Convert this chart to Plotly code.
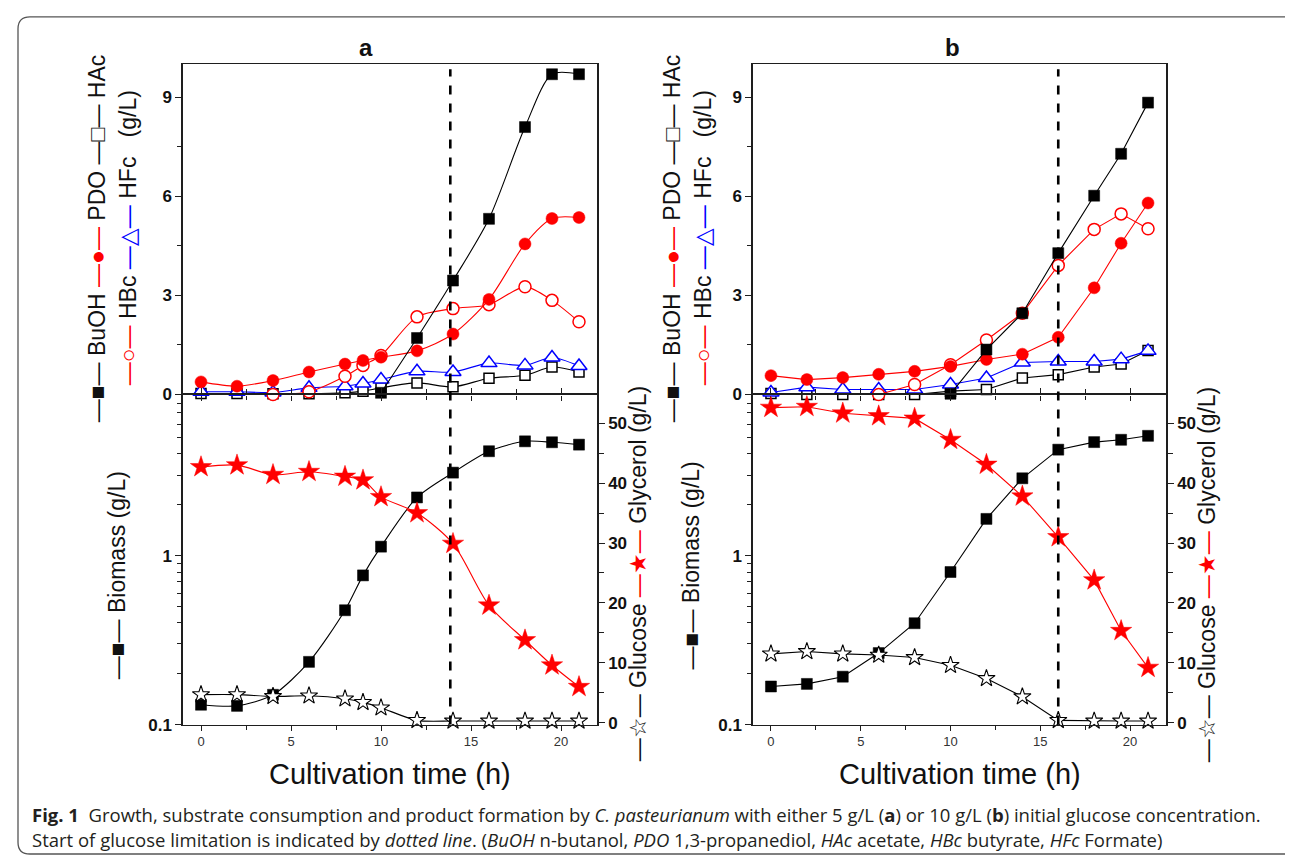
import math
import plotly.graph_objects as go

W, H = 1293, 858

# ---------------- data ----------------
time_a = [0, 2, 4, 6, 8, 9, 10, 12, 14, 16, 18, 19.5, 21]
time_b = [0, 2, 4, 6, 8, 10, 12, 14, 16, 18, 19.5, 21]

# panel a, products (g/L); None = point not visible in the figure
buoh_a = [None, None, None, None, None, None, 0.05, 1.71, 3.45, 5.32, 8.1, 9.7, 9.7]
pdo_a = [0.38, 0.25, 0.42, 0.68, 0.92, 1.03, 1.13, 1.32, 1.83, 2.88, 4.56, 5.33, 5.36]
hbc_a = [None, None, 0.0, 0.08, 0.55, 0.88, 1.18, 2.35, 2.6, 2.72, 3.26, 2.85, 2.2]
hfc_a = [0.08, 0.08, 0.06, 0.2, 0.25, 0.33, 0.45, 0.7, 0.68, 0.95, 0.88, 1.12, 0.86]
hac_a = [0.03, 0.03, 0.02, 0.02, 0.05, 0.1, 0.2, 0.35, 0.23, 0.49, 0.58, 0.83, 0.68]

# panel a, biomass / substrates
biomass_a = [0.131, 0.129, 0.150, 0.235, 0.475, 0.764, 1.13, 2.21, 3.10, 4.15, 4.75, 4.69, 4.54]
glycerol_a = [42.7, 43.0, 41.4, 41.9, 41.1, 40.5, 37.7, 35.0, 29.9, 19.6, 13.8, 9.6, 6.0]
glucose_a = [4.7, 4.7, 4.4, 4.5, 4.0, 3.4, 2.5, 0.4, 0.3, 0.3, 0.3, 0.3, 0.3]

# panel b, products (g/L)
buoh_b = [None, None, None, None, None, 0.02, 1.36, 2.46, 4.28, 6.02, 7.29, 8.84]
pdo_b = [0.57, 0.45, 0.51, 0.61, 0.70, 0.85, 1.06, 1.22, 1.73, 3.23, 4.58, 5.8]
hbc_b = [None, None, None, 0.0, 0.3, 0.9, 1.65, 2.46, 3.91, 5.0, 5.47, 5.02]
hfc_b = [0.06, 0.22, 0.15, 0.15, 0.15, 0.3, 0.5, 0.97, 1.0, 1.0, 1.07, 1.32]
hac_b = [0.03, 0.0, 0.0, 0.0, 0.0, 0.1, 0.15, 0.5, 0.6, 0.83, 0.92, 1.33]

# panel b, biomass / substrates
biomass_b = [0.168, 0.174, 0.192, 0.265, 0.398, 0.80, 1.65, 2.87, 4.24, 4.70, 4.85, 5.12]
glycerol_b = [52.6, 52.75, 51.65, 51.2, 50.8, 47.25, 43.1, 37.8, 31.0, 23.8, 15.35, 9.2]
glucose_b = [11.5, 11.9, 11.5, 11.3, 10.9, 9.6, 7.4, 4.35, 0.4, 0.3, 0.3, 0.3]

limit_a = 13.85   # start of glucose limitation (h)
limit_b = 16.0

panel_titles = ["a", "b"]
x_title = "Cultivation time (h)"

# ---------------- layout helpers ----------------
def px_x(p):
    return p / W

def px_y(p):
    return 1 - p / H

XA = [px_x(175), px_x(589)]
XB = [px_x(745), px_x(1158)]
YT = [px_y(391), px_y(57)]
YB = [px_y(725), px_y(391)]

RED = "#ff0000"
BLUE = "#0000ff"
BLK = "#000000"
AXC = "#1e1e1e"
TICKFONT = dict(family="Liberation Sans Narrow, Liberation Sans, Arial", size=17,
                color="#111111", weight="bold")

fig = go.Figure()


def line_trace(x, y, xa, ya, color, symbol, size, fill, shape, name, lw=1.5, smooth=0.8):
    line = dict(color=color, width=1.1, shape=shape)
    if shape == "spline":
        line["smoothing"] = smooth
    fig.add_trace(go.Scatter(
        x=x, y=y, xaxis=xa, yaxis=ya, mode="lines+markers", name=name,
        line=line, connectgaps=False,
        marker=dict(symbol=symbol, size=size, color=fill, line=dict(color=color, width=lw)),
        cliponaxis=False, showlegend=False))


for (t, buoh, pdo, hbc, hfc, hac, bio, gly, glc, xt, yt, xb, yb, yr, shape) in [
    (time_a, buoh_a, pdo_a, hbc_a, hfc_a, hac_a, biomass_a, glycerol_a, glucose_a,
     "x", "y", "x2", "y2", "y3", "spline"),
    (time_b, buoh_b, pdo_b, hbc_b, hfc_b, hac_b, biomass_b, glycerol_b, glucose_b,
     "x3", "y4", "x4", "y5", "y6", "linear"),
]:
    # top panel: products
    line_trace(t, hac, xt, yt, BLK, "square", 10, "white", shape, "HAc")
    line_trace(t, hfc, xt, yt, BLUE, "triangle-up", 14, "white", shape, "HFc")
    line_trace(t, hbc, xt, yt, RED, "circle", 12, "white", shape, "HBc")
    line_trace(t, pdo, xt, yt, RED, "circle", 12, RED, shape, "PDO", lw=0.5)
    line_trace(t, buoh, xt, yt, BLK, "square", 11, BLK, shape, "BuOH", lw=0.5)
    # bottom panel
    line_trace(t, glc, xb, yr, BLK, "star", 13, "white", shape, "Glucose", lw=1.1)
    line_trace(t, gly, xb, yr, RED, "star", 16, RED, shape, "Glycerol", lw=0.5)
    line_trace(t, bio, xb, yb, BLK, "square", 11, BLK, shape, "Biomass", lw=0.5)


def xaxis_top(dom, anchor):
    return dict(domain=dom, anchor=anchor, range=[-1, 22], showline=True, linecolor=AXC,
                linewidth=1.3, mirror=True, ticks="outside", tick0=0, dtick=5, ticklen=5,
                tickwidth=1.2, tickcolor=AXC, showticklabels=False, showgrid=False, zeroline=False,
                minor=dict(ticks="outside", dtick=2.5, tick0=0, ticklen=4, tickcolor=AXC, tickwidth=1))


def xaxis_bot(dom, anchor):
    return dict(domain=dom, anchor=anchor, range=[-1, 22], showline=True, linecolor=AXC,
                linewidth=1.3, mirror="ticks", ticks="outside", tick0=0, dtick=5, ticklen=5,
                tickwidth=1.2, tickcolor=AXC, showgrid=False, zeroline=False,
                tickfont=dict(family="Liberation Sans, Arial", size=13, color="#333333"),
                minor=dict(ticks="outside", dtick=2.5, tick0=0, ticklen=4, tickcolor=AXC, tickwidth=1))


def yaxis_top(anchor):
    return dict(domain=YT, anchor=anchor, range=[0, 10], showline=True, linecolor=AXC,
                linewidth=1.5, mirror=True, ticks="outside", tickvals=[0, 3, 6, 9], ticklen=6,
                tickwidth=1.2, tickcolor=AXC, showgrid=False, zeroline=False, tickfont=TICKFONT,
                minor=dict(ticks="outside", tickvals=[1.5, 4.5, 7.5], ticklen=4, tickcolor=AXC, tickwidth=1))


def yaxis_log(anchor):
    return dict(domain=YB, anchor=anchor, type="log", range=[-1, math.log10(9)], showline=True,
                linecolor=AXC, linewidth=1.5, mirror=True, ticks="outside", tickvals=[0.1, 1],
                ticktext=["0.1", "1"], ticklen=6, tickwidth=1.2, tickcolor=AXC, showgrid=False,
                zeroline=False, tickfont=TICKFONT,
                minor=dict(ticks="outside", tickmode="array",
                           tickvals=[0.2, 0.3, 0.4, 0.5, 0.6, 0.7, 0.8, 0.9, 2, 3, 4, 5, 6, 7, 8],
                           ticklen=4, tickcolor=AXC, tickwidth=1))


def yaxis_right(anchor, over):
    return dict(domain=YB, anchor=anchor, overlaying=over, side="right", range=[-0.3, 54.8],
                showline=True, linecolor=AXC, linewidth=1.5, ticks="outside", tick0=0, dtick=10,
                ticklen=6, tickwidth=1.2, tickcolor=AXC, showgrid=False, zeroline=False,
                tickfont=TICKFONT,
                minor=dict(ticks="outside", dtick=5, tick0=0, ticklen=5, tickcolor=AXC, tickwidth=1))


fig.update_layout(
    width=W, height=H, margin=dict(l=0, r=0, t=0, b=0),
    paper_bgcolor="white", plot_bgcolor="rgba(0,0,0,0)",
    xaxis=xaxis_top(XA, "y"), yaxis=yaxis_top("x"),
    xaxis2=xaxis_bot(XA, "y2"), yaxis2=yaxis_log("x2"), yaxis3=yaxis_right("x2", "y2"),
    xaxis3=xaxis_top(XB, "y4"), yaxis4=yaxis_top("x3"),
    xaxis4=xaxis_bot(XB, "y5"), yaxis5=yaxis_log("x4"), yaxis6=yaxis_right("x4", "y5"),
)

# dashed glucose-limitation lines
for xref, xv in [("x", limit_a), ("x3", limit_b)]:
    fig.add_shape(type="line", xref=xref, yref="paper", x0=xv, x1=xv,
                  y0=YB[0], y1=px_y(62), line=dict(color=BLK, width=2.6, dash="dash"))

# rounded frame
xl, yt_, yb_ = px_x(10), px_y(9), px_y(856)
rx, ry = 12 / W, 12 / H
frame = (f"M 1.01,{yt_} L {xl + rx},{yt_} Q {xl},{yt_} {xl},{yt_ - ry} "
         f"L {xl},{yb_ + ry} Q {xl},{yb_} {xl + rx},{yb_} L 1.01,{yb_}")
fig.add_shape(type="path", xref="paper", yref="paper", path=frame,
              line=dict(color="#555555", width=1.3))

ARIAL = "Liberation Sans, Arial"
ann = []
DX = -8  # rotated-text anchor correction (px)


def rot_label(xp, yp, text, size=23):
    ann.append(dict(x=px_x(xp + DX), y=px_y(yp), xref="paper", yref="paper", text=text,
                    textangle=-90, showarrow=False, xanchor="center", yanchor="middle",
                    font=dict(family=ARIAL, size=size, color="#111111")))


def col(s, c):
    return f"<span style='color:{c}'>{s}</span>"


top1 = "—■— BuOH " + col("—●—", RED) + " PDO —□— HAc"
top2 = col("—○—", RED) + " HBc " + col("—△—", BLUE) + " HFc   (g/L)"
bio_lbl = "—■— Biomass (g/L)"
sub_lbl = col("—☆—", "#111111") + " Glucose " + col("—★—", RED) + " Glycerol (g/L)"

rot_label(97, 233, top1)
rot_label(128, 233, top2)
rot_label(117, 574, bio_lbl)
rot_label(638, 572, sub_lbl)

rot_label(672, 233, top1)
rot_label(703, 233, top2)
rot_label(691, 564, bio_lbl)
rot_label(1207, 573, sub_lbl)

for xp, t in [(358, panel_titles[0]), (944, panel_titles[1])]:
    ann.append(dict(x=px_x(xp), y=px_y(40), xref="paper", yref="paper", text=f"<b>{t}</b>",
                    showarrow=False, xanchor="center", yanchor="middle",
                    font=dict(family=ARIAL, size=24, color="#111111")))

for xp in [382, 951.5]:
    ann.append(dict(x=px_x(xp), y=px_y(775), xref="paper", yref="paper", text=x_title,
                    showarrow=False, xanchor="center", yanchor="middle",
                    font=dict(family=ARIAL, size=29, color="#111111")))

cap1 = ("<b>Fig. 1</b>  Growth, substrate consumption and product formation by "
        "<i>C. pasteurianum</i> with either 5 g/L (<b>a</b>) or 10 g/L (<b>b</b>) "
        "initial glucose concentration.")
cap2 = ("Start of glucose limitation is indicated by <i>dotted line</i>. (<i>BuOH</i> n-butanol, "
        "<i>PDO</i> 1,3-propanediol, <i>HAc</i> acetate, <i>HBc</i> butyrate, <i>HFc</i> Formate)")
for yp, c in [(816, cap1), (841, cap2)]:
    ann.append(dict(x=px_x(22), y=px_y(yp), xref="paper", yref="paper", text=c,
                    showarrow=False, xanchor="left", yanchor="middle",
                    font=dict(family="Open Sans", size=18.5, color="#231f20")))

fig.update_layout(annotations=ann)
fig.write_html("out.html")
